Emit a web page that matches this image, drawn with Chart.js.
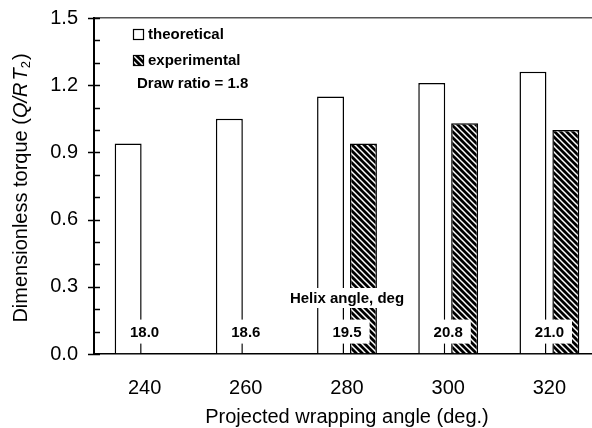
<!DOCTYPE html>
<html>
<head>
<meta charset="utf-8">
<script src="https://cdn.jsdelivr.net/npm/chart.js@4.4.0/dist/chart.umd.min.js"></script>
<style>
  html, body { margin: 0; padding: 0; background: #fff; overflow: hidden; }
  #wrap { width: 592px; height: 428px; overflow: hidden; }
  canvas { display: block; }
</style>
</head>
<body>
<div id="wrap"><canvas id="torqueChart" width="600" height="428"></canvas></div>
<script>
// torque vs. wrapping angle, draw ratio 1.8
const wrapAngles   = ['240', '260', '280', '300', '320'];
const theoretical  = [0.94, 1.05, 1.15, 1.21, 1.26];
const experimental = [null, null, 0.94, 1.03, 1.00];
const helixAngles  = ['18.0', '18.6', '19.5', '20.8', '21.0'];
const yTicks       = [0, 0.3, 0.6, 0.9, 1.2, 1.5];
const drawRatio    = '1.8';

const FONT = '"Liberation Sans", Arial, Helvetica, sans-serif';

(() => {
  const canvas = document.getElementById('torqueChart');
  const ctx = canvas.getContext('2d');

  // hachura diagonal preta/branca das barras experimentais
  const makeHatch = () => {
    const c = document.createElement('canvas');
    c.width = 6; c.height = 6;
    const g = c.getContext('2d');
    g.fillStyle = '#000';
    g.fillRect(0, 0, 6, 6);
    g.strokeStyle = '#fff';
    g.lineWidth = 1.5;
    [-6, 0, 6].forEach(o => {
      g.beginPath();
      g.moveTo(o - 1, -1);
      g.lineTo(o + 7, 7);
      g.stroke();
    });
    return ctx.createPattern(c, 'repeat');
  };
  const hatch = makeHatch();

  // rótulos de ângulo de hélice com fundo branco
  const helixLabels = {
    id: 'helixLabels',
    afterDatasetsDraw(chart) {
      const { ctx } = chart;
      const xs = chart.scales.x, ys = chart.scales.y;
      ctx.save();
      ctx.font = `bold 15px ${FONT}`;
      ctx.textAlign = 'center';
      ctx.textBaseline = 'middle';

      const boxText = (txt, cx, cy, padX, h) => {
        const w = ctx.measureText(txt).width + padX * 2;
        ctx.fillStyle = '#fff';
        ctx.fillRect(cx - w / 2, cy - h / 2, w, h);
        ctx.fillStyle = '#000';
        ctx.fillText(txt, cx, cy + 1);
      };

      helixAngles.forEach((t, i) => {
        boxText(t, xs.getPixelForValue(i), ys.getPixelForValue(0.1), 8, 24);
      });
      boxText('Helix angle, deg', xs.getPixelForValue(2), ys.getPixelForValue(0.25), 2, 20);
      ctx.restore();
    }
  };

  // marcas do eixo y, título do eixo y e legenda
  const decor = {
    id: 'decor',
    afterDraw(chart) {
      const { ctx, chartArea: a } = chart;
      const ys = chart.scales.y;
      ctx.save();

      // marcas menores (0.1) e maiores (0.3)
      ctx.strokeStyle = '#000';
      ctx.lineWidth = 1.5;
      for (let k = 0; k <= 15; k++) {
        const y = Math.round(ys.getPixelForValue(k / 10)) + 0.5;
        const major = k % 3 === 0;
        ctx.beginPath();
        ctx.moveTo(a.left - (major ? 6 : 0), y);
        ctx.lineTo(a.left + 6, y);
        ctx.stroke();
      }

      // título do eixo y: Dimensionless torque (Q/RT2)
      const parts = [
        { t: 'Dimensionless torque (', f: `20px ${FONT}`, dy: 0, gap: 0 },
        { t: 'Q/R', f: `italic 20px ${FONT}`, dy: 0, gap: 2 },
        { t: 'T', f: `italic 20px ${FONT}`, dy: 0, gap: 0 },
        { t: '2', f: `13px ${FONT}`, dy: 5, gap: 1 },
        { t: ')', f: `20px ${FONT}`, dy: 0, gap: 0 }
      ];
      let total = 0;
      parts.forEach(p => { ctx.font = p.f; p.w = ctx.measureText(p.t).width + p.gap; total += p.w; });
      ctx.translate(21, (a.top + a.bottom) / 2 + 2);
      ctx.rotate(-Math.PI / 2);
      ctx.fillStyle = '#000';
      ctx.textBaseline = 'middle';
      ctx.textAlign = 'left';
      let px = -total / 2;
      parts.forEach(p => {
        ctx.font = p.f;
        ctx.fillText(p.t, px, p.dy);
        px += p.w;
      });
      ctx.setTransform(1, 0, 0, 1, 0, 0);

      // legenda
      const lx = a.left + 39;
      ctx.lineWidth = 1.2;
      ctx.fillStyle = '#fff';
      ctx.fillRect(lx, 29, 11, 11);
      ctx.strokeRect(lx + 0.5, 29.5, 10, 10);
      ctx.fillStyle = hatch;
      ctx.fillRect(lx, 55, 11, 11);
      ctx.strokeRect(lx + 0.5, 55.5, 10, 10);

      ctx.fillStyle = '#000';
      ctx.font = `bold 15px ${FONT}`;
      ctx.textBaseline = 'middle';
      ctx.fillText('theoretical', lx + 15, 35);
      ctx.fillText('experimental', lx + 15, 61);
      ctx.fillText('Draw ratio = ' + drawRatio, lx + 4, 84);

      ctx.restore();
    }
  };

  new Chart(ctx, {
    type: 'bar',
    data: {
      labels: wrapAngles,
      datasets: [
        {
          label: 'theoretical',
          data: theoretical,
          backgroundColor: '#fff',
          borderColor: '#000',
          borderWidth: 1.5,
          borderSkipped: 'bottom'
        },
        {
          label: 'experimental',
          data: experimental,
          backgroundColor: hatch,
          borderColor: '#000',
          borderWidth: 1.5,
          borderSkipped: 'bottom'
        }
      ]
    },
    options: {
      responsive: false,
      animation: false,
      devicePixelRatio: 1,
      barPercentage: 0.82,
      categoryPercentage: 0.65,
      layout: { padding: { top: 18, right: 0, bottom: 0, left: 0 } },
      plugins: {
        legend: { display: false },
        tooltip: { enabled: false }
      },
      scales: {
        x: {
          offset: true,
          grid: { display: false },
          border: { display: true, color: '#000', width: 1.5 },
          ticks: {
            color: '#000',
            font: { family: FONT, size: 20 },
            padding: 14
          },
          title: {
            display: true,
            text: 'Projected wrapping angle (deg.)',
            color: '#000',
            font: { family: FONT, size: 20, lineHeight: 1 },
            padding: { top: 0, bottom: 1 }
          },
          afterFit: (s) => { s.height = 74; }
        },
        y: {
          min: 0,
          max: 1.5,
          // só a linha do topo (1.5) fica visível, como moldura superior
          grid: {
            display: true,
            drawTicks: false,
            lineWidth: 1.5,
            color: (c) => (c.tick && c.tick.value === 1.5 ? '#555' : 'rgba(0,0,0,0)')
          },
          border: { display: true, color: '#000', width: 2 },
          afterBuildTicks: (s) => { s.ticks = yTicks.map(v => ({ value: v })); },
          ticks: {
            color: '#000',
            font: { family: FONT, size: 20 },
            padding: 16,
            callback: (v) => Number(v).toFixed(1)
          },
          afterFit: (s) => {
            s.width = 94;
            s.paddingTop = 0;
            s.paddingBottom = 0;
          }
        }
      }
    },
    plugins: [helixLabels, decor]
  });
})();
</script>
</body>
</html>
